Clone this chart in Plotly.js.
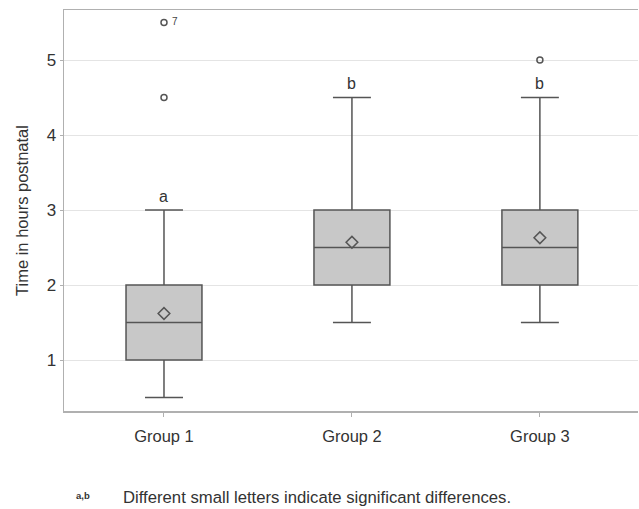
<!DOCTYPE html>
<html>
<head>
<meta charset="utf-8">
<script src="https://cdn.plot.ly/plotly-3.0.1.min.js"></script>
<style>html,body{margin:0;padding:0;background:#fff;}#chart{width:639px;height:509px;}</style>
</head>
<body>
<div id="chart"></div>
<script>
const categories = ['Group 1', 'Group 2', 'Group 3'];
const lowerWhisker = [0.5, 1.5, 1.5];
const q1Values = [1.0, 2.0, 2.0];
const medianValues = [1.5, 2.5, 2.5];
const q3Values = [2.0, 3.0, 3.0];
const upperWhisker = [3.0, 4.5, 4.5];
const meanValues = [1.62, 2.57, 2.63];
const outlierGroup = [0, 0, 2];
const outlierValues = [4.5, 5.5, 5.0];
const outlierLabels = ['', '7', ''];
const sigLetters = ['a', 'b', 'b'];
const yTicks = [1, 2, 3, 4, 5];

const FONT = 'Liberation Sans, Arial, sans-serif';
const lineCol = '#555555';
const traces = [];
categories.forEach((c, i) => {
  traces.push({
    type: 'box', x: [i], q1: [q1Values[i]], median: [medianValues[i]], q3: [q3Values[i]],
    lowerfence: [lowerWhisker[i]], upperfence: [upperWhisker[i]],
    width: 0.404, whiskerwidth: 0.5, boxpoints: false,
    fillcolor: '#c8c8c8', line: {color: lineCol, width: 1.5},
    hoverinfo: 'skip', showlegend: false
  });
});
traces.push({
  type: 'scatter', mode: 'markers', x: categories.map((c, i) => i), y: meanValues,
  marker: {symbol: 'diamond-open', size: 9, color: lineCol, line: {width: 1.5, color: lineCol}},
  showlegend: false, hoverinfo: 'skip'
});
traces.push({
  type: 'scatter', mode: 'markers', x: outlierGroup, y: outlierValues,
  marker: {symbol: 'circle-open', size: 6, color: lineCol, line: {width: 1.5, color: lineCol}},
  showlegend: false, hoverinfo: 'skip'
});

const L = 64, T = 10, R = 1, B = 98, W = 639, H = 509;
const pw = W - L - R, ph = H - T - B;
const px = v => (v - L) / pw, py = v => (H - B - v) / ph;

const annotations = [];
sigLetters.forEach((s, i) => {
  annotations.push({x: i, y: upperWhisker[i], xref: 'x', yref: 'y', text: s, showarrow: false,
    yshift: 14, font: {family: FONT, size: 16, color: '#333'}});
});
outlierLabels.forEach((l, i) => {
  if (l) annotations.push({x: outlierGroup[i], y: outlierValues[i], xref: 'x', yref: 'y', text: l,
    showarrow: false, xshift: 11, yshift: 1, font: {family: FONT, size: 10, color: '#444'}});
});
annotations.push({x: px(74), y: py(495), xref: 'paper', yref: 'paper', text: '<b>a,b</b>', showarrow: false,
  xanchor: 'left', yanchor: 'middle', font: {family: FONT, size: 9.5, color: '#333'}});
annotations.push({x: px(121), y: py(497), xref: 'paper', yref: 'paper',
  text: 'Different small letters indicate significant differences.', showarrow: false,
  xanchor: 'left', yanchor: 'middle', font: {family: FONT, size: 16.7, color: '#333'}});

const layout = {
  width: W, height: H,
  margin: {l: L, r: R, t: T, b: B},
  paper_bgcolor: '#fff', plot_bgcolor: '#fff',
  font: {family: FONT, size: 16, color: '#333'},
  xaxis: {
    range: [-0.532, 2.522], tickvals: categories.map((c, i) => i), ticktext: categories,
    showgrid: false, zeroline: false, showline: true, linecolor: '#b0b0b0', linewidth: 1.5,
    mirror: true, ticks: 'outside', ticklen: 4, tickcolor: '#b0b0b0', ticklabelstandoff: 6,
    tickfont: {size: 16.5, color: '#333'}
  },
  yaxis: {
    range: [0.32, 5.667], tickvals: yTicks, showgrid: true, gridcolor: '#e4e4e4', gridwidth: 1,
    zeroline: false, showline: true, linecolor: '#b0b0b0', linewidth: 1.5, mirror: false,
    ticks: 'outside', ticklen: 3, tickcolor: '#b0b0b0', tickfont: {size: 17, color: '#333'},
    title: {text: 'Time in hours postnatal', font: {size: 16.5, color: '#333'}, standoff: 14}
  },
  annotations: annotations
};
Plotly.newPlot('chart', traces, layout, {displayModeBar: false, staticPlot: true});
</script>
</body>
</html>
